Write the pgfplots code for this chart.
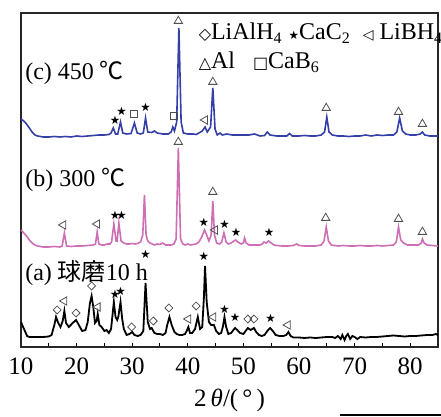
\documentclass[border=0pt]{standalone}
\usepackage{fontspec}
\setmainfont{Liberation Serif}
\newfontfamily\cjk{Noto Sans CJK SC}
\newfontfamily\sym{DejaVu Sans}
\usepackage{pgfplots}
\pgfplotsset{compat=1.18}
\definecolor{cblue}{RGB}{52,64,168}
\definecolor{cpink}{RGB}{206,110,180}
\definecolor{mk}{RGB}{80,80,80}
\begin{document}
\fontsize{12}{14}\selectfont
\begin{tikzpicture}
\useasboundingbox (0pt,0pt) rectangle (220.5pt,208.5pt);
\begin{axis}[
  at={(10.5pt,35pt)}, anchor=south west,
  scale only axis, width=208.5pt, height=167pt,
  xmin=10, xmax=85, ymin=0, ymax=334,
  xtick={10,20,...,80}, minor xtick={15,25,...,85},
  ytick=\empty, xtick pos=bottom, tick align=inside,
  major tick length=2pt, minor tick length=2pt,
  tick style={black, line width=0.5pt},
  axis line style={line width=0.6pt, black!85},
  /pgf/number format/assume math mode=true,
  xticklabel style={yshift=-1pt, font=\fontsize{12.5}{14}\selectfont},
  xlabel={2\,\textit{θ}/(\,°\,)},
  xlabel style={yshift=1pt, font=\fontsize{12.5}{14}\selectfont},
  clip=false,
]
% (c) 450 C
\addplot[cblue, line width=0.8pt] coordinates {
(10,228) (10.5,226) (11,223) (11.5,219) (12,215) (12.5,212) (13,211) (14,210) (15,210) (16,210.5) (17,210) (18,210.5) (19,210) (20,211) (21,210.5) (22,211) (23,211.5) (24,212) (25,212) (25.8,212.5) (26.2,214) (26.6,219) (27.0,213) (27.4,213) (27.9,225) (28.3,214) (29,213) (29.8,213.5) (30.4,224) (30.9,214) (31.5,213) (32.0,214) (32.4,229) (32.8,215) (33.5,214.5) (34,216) (34.5,214) (35.5,213) (36.5,213) (37.0,215) (37.3,220) (37.6,216) (38.0,225) (38.4,319) (38.8,225) (39.2,214) (40,213) (41,213) (41.5,212.5) (42,214) (42.6,216) (43.1,220) (43.5,215) (44.1,220) (44.5,259) (44.9,218) (45.3,212) (45.8,214) (46.2,212) (47,213) (48,212) (49,212) (50,212) (51,212) (52,213) (53,211) (53.8,211.5) (54.3,215) (54.8,212) (56,211) (57,211) (57.8,211) (58.3,213.5) (58.8,211) (60,211) (61,211.5) (62,211) (63,211) (64,212) (64.6,215) (65,230) (65.4,215) (66,212) (67,211) (68,211) (69,210.5) (70,211) (71,211) (72,212) (73,211) (74,212) (75,211.5) (76,212) (77,212) (77.6,215) (78.1,229) (78.6,216) (79.2,213) (80,212) (81,212) (81.8,213) (82.2,215) (82.6,212) (83.5,211) (84.5,211) (85,211)
};
% (b) 300 C
\addplot[cpink, line width=0.8pt] coordinates {
(10,117) (10.5,114) (11,111) (11.5,107) (12,104) (12.5,102) (13,101) (14,100) (15,100) (16,100.5) (17,100) (17.4,101) (17.8,114) (18.2,101) (19,100.5) (20,101) (21,101) (22,101.5) (23,102) (23.4,103) (23.7,115) (24.0,103) (24.5,102) (25,102) (25.5,103) (26,103) (26.3,105) (26.7,123) (27.1,106) (27.3,106) (27.6,124) (28.0,106) (28.5,104) (29,103) (29.5,103) (30,103.5) (30.5,103) (31,103.5) (31.5,105) (31.9,112) (32.2,152) (32.5,112) (32.8,106) (33.2,104) (34,102) (34.5,103) (35,102.5) (35.5,104) (36,102) (37,102) (37.5,103) (37.9,108) (38.3,199) (38.7,108) (39.1,103) (39.5,102) (40,103) (40.5,102) (41,102.5) (41.5,103) (42,105) (42.5,110) (43.0,117) (43.4,112) (43.8,106) (44.2,112) (44.5,146) (44.8,112) (45.2,104) (45.7,103) (46.1,105) (46.5,114) (46.9,105) (47.3,103) (47.8,104) (48.3,106) (48.6,107) (49,105) (49.6,103) (50.0,104) (50.2,109) (50.5,104) (51,102) (52,102) (53,102) (53.4,103) (53.7,105) (54.1,104) (54.5,106) (55,104) (55.5,102) (56,101.5) (57,101) (58,101) (59,101.5) (59.6,103) (60,101.5) (61,101) (62,101) (63,101) (64,102) (64.5,106) (64.9,120) (65.3,106) (65.8,102) (67,101) (68,101.5) (69,101) (70,101) (71,101.5) (72,101) (73,101) (74,101.5) (75,101) (76,101.5) (77,102) (77.5,105) (77.9,120) (78.3,107) (78.8,104) (79.5,102) (80.5,102) (81.5,102) (82.0,104) (82.2,108) (82.5,104) (83,102) (84,101.5) (85,101)
};
% (a) ball milled 10 h
\addplot[black, line width=0.9pt] coordinates {
(10,25) (10.3,21) (10.7,16) (11.1,11) (11.5,10) (12,10) (13,10) (14,10) (15,10.5) (15.5,12) (16.0,22) (16.3,30) (16.7,24) (17.1,20) (17.5,26) (17.8,36) (18.1,24) (18.6,20) (19.3,24) (19.9,27) (20.4,22) (21,16) (21.6,17) (22.0,25) (22.4,44) (22.7,51) (23.0,40) (23.3,24) (23.6,26) (23.8,33) (24.1,22) (24.5,20) (25,16) (25.4,17) (25.8,14) (26.2,18) (26.7,45) (27.0,30) (27.3,27) (27.5,30) (27.9,45) (28.2,28) (28.5,18) (29,12) (29.5,13) (30.0,15) (30.4,12) (31,11) (31.5,12) (32.0,16) (32.4,64) (32.8,25) (33.2,18) (33.5,19) (34,14) (34.5,13) (35,13) (35.5,12) (36,14) (36.3,22) (36.7,30) (37.1,22) (37.6,15) (38,13) (38.5,12) (39,12) (39.5,13) (39.8,16) (40.1,20) (40.4,14) (40.8,14) (41.3,18) (41.8,30) (42.2,18) (42.6,20) (42.9,50) (43.1,81) (43.4,45) (43.8,25) (44.2,22) (44.7,22) (45.1,16) (45.6,13) (46.0,14) (46.3,20) (46.6,30) (46.9,20) (47.3,13) (47.8,14) (48.2,17) (48.5,19) (48.9,17) (49.4,14) (50,13) (50.4,16) (50.8,19) (51.3,17) (51.9,19) (52.3,15) (52.8,12) (53.3,11) (53.8,12) (54.3,16) (54.8,19) (55.3,16) (55.8,12) (56.5,11) (57.2,11) (57.7,12) (58.1,15) (58.5,11) (59,9.5) (60,9.5) (61,9) (62,9.5) (63,9) (64,9.5) (65,10) (66,10) (66.5,9) (67,11) (67.5,8) (67.8,12) (68.2,7) (68.5,11) (68.8,13) (69.2,8) (69.6,11) (70,10) (70.5,8) (71,10) (72,9.5) (73,10) (74,10) (75,10.5) (76,11) (77,11.5) (78,11) (79,10.5) (80,11) (81,11) (82,11.5) (83,12) (84,12) (84.6,13) (85,12)
};
% Al: open triangles up
\addplot[only marks, mark=triangle, mark size=2.4pt, mark options={draw=mk, fill=white, line width=0.4pt}] coordinates {
(38.3,326) (44.5,265) (64.9,239) (77.9,235) (82.2,223)
(38.3,205) (44.5,155) (64.8,129) (77.9,128) (82.2,115)
};
% LiBH4: open triangles left
\addplot[only marks, mark=triangle, mark size=2.4pt, mark options={rotate=90, draw=mk, fill=white, line width=0.4pt}] coordinates {
(43.1,227)
(17.6,122) (23.7,123) (44.9,117)
(17.8,46) (23.8,40) (40.1,28) (44.6,30) (58.0,22)
};
% CaB6: open squares
\addplot[only marks, mark=square, mark size=1.8pt, mark options={draw=mk, fill=white, line width=0.4pt}] coordinates {
(30.3,233) (37.5,231)
};
% LiAlH4: open diamonds
\addplot[only marks, mark=square, mark size=1.4pt, mark options={rotate=45, draw=mk, fill=white, line width=0.4pt}] coordinates {
(16.5,37) (19.9,34) (22.7,61) (29.9,20) (33.8,26) (36.6,39) (41.5,41) (50.8,28) (51.9,28)
};
% CaC2: filled stars
\addplot[only marks, mark=text, text mark={\sym\fontsize{5.8}{6}\selectfont ★}] coordinates {
(26.9,227) (28.1,236) (32.4,240)
(26.9,132) (28.1,132) (42.9,125) (46.6,123) (48.7,115) (54.6,115)
(26.9,53) (27.9,56) (32.4,93) (42.9,91) (46.6,38) (48.5,30) (54.9,29)
};
% curve labels
\node[anchor=west, inner sep=0pt] at (axis cs:10.7,274) {(c) 450 {\cjk ℃}};
\node[anchor=west, inner sep=0pt] at (axis cs:10.7,167) {(b) 300 {\cjk ℃}};
\node[anchor=west, inner sep=0pt] at (axis cs:10.7,74) {(a) {\cjk 球磨}10 h};
% legend text
\node[anchor=base west, inner sep=0pt] at (axis cs:41.9,307) {{\sym\fontsize{8}{8}\selectfont ◇}LiAlH\textsubscript{4} {\sym\fontsize{5.8}{6}\selectfont ★}CaC\textsubscript{2} \ {\sym\fontsize{7}{7}\selectfont ◁} LiBH\textsubscript{4}};
\node[anchor=base west, inner sep=0pt] at (axis cs:41.9,278) {{\sym\fontsize{8}{8}\selectfont △}Al \ \ {\sym\fontsize{8}{8}\selectfont □}CaB\textsubscript{6}};
\end{axis}
\draw[line width=0.6pt] (170pt,1pt) -- (220.5pt,1pt);
\end{tikzpicture}
\end{document}
